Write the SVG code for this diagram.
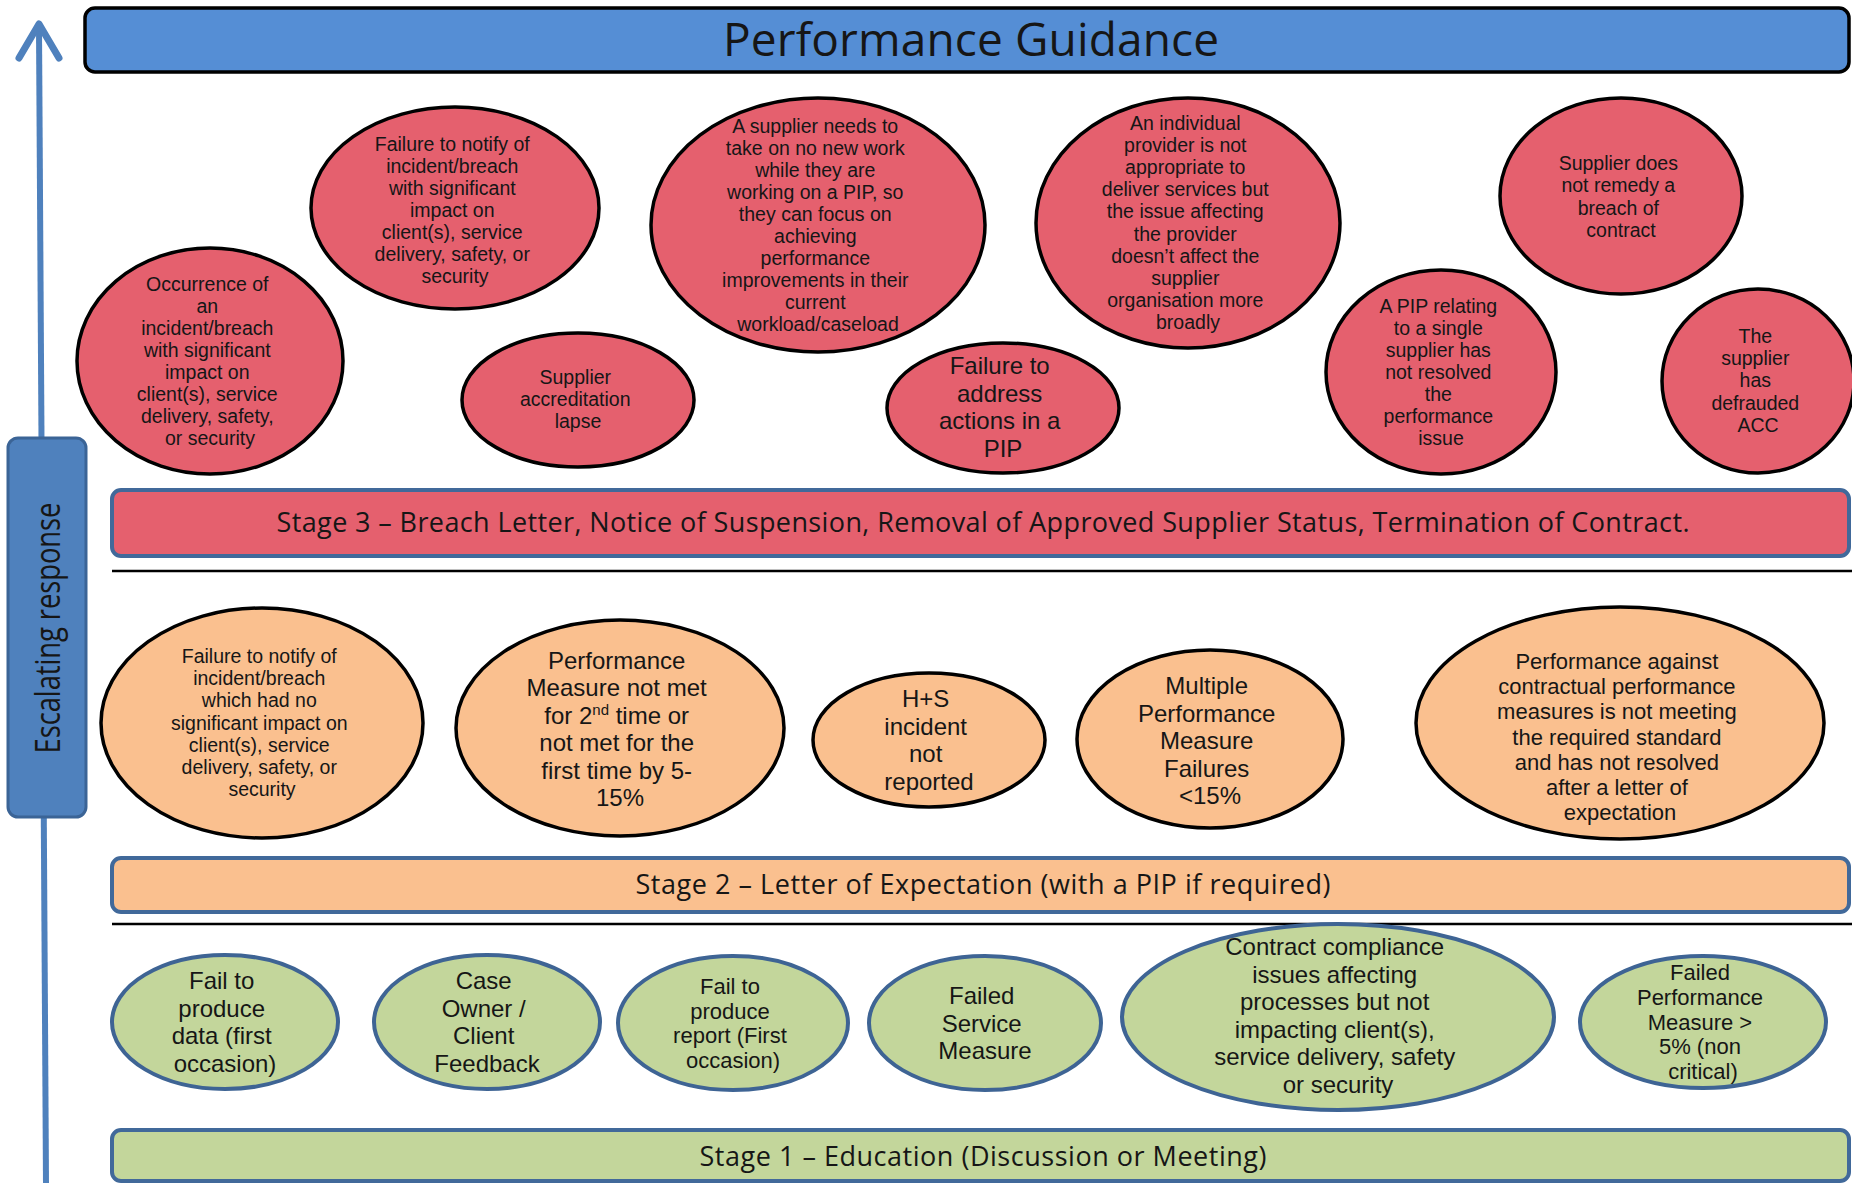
<svg xmlns="http://www.w3.org/2000/svg" width="1852" height="1183" viewBox="0 0 1852 1183">
  <style>
    text { font-family: "Liberation Sans", Arial, sans-serif; fill: #161616; text-anchor: middle; }
    .wide { font-family: "Open Sans", "Liberation Sans", Arial, sans-serif; }
    .red { fill: #E5606E; stroke: #000; stroke-width: 3.5; }
    .orange { fill: #FAC08F; stroke: #000; stroke-width: 3.5; }
    .green { fill: #C3D69B; stroke: #3E6494; stroke-width: 4; }
    .bar { stroke: #41699A; stroke-width: 4; }
    .sep { stroke: #000; stroke-width: 2.5; }
    .t20 { font-size: 19.5px; }
    .t22 { font-size: 22px; }
    .t24 { font-size: 24px; }
    .stage { font-size: 27px; }
  </style>

  <rect width="1852" height="1183" fill="#fff"/>

  <!-- Escalation axis: arrow running up the left side -->
  <g id="connectors">
    <line x1="39" y1="28" x2="46" y2="1183" stroke="#4F81BD" stroke-width="6"/>
    <polyline points="19,58 39,24 59,58" fill="none" stroke="#4F81BD" stroke-width="7" stroke-linecap="round" stroke-linejoin="round"/>
  </g>

  <g id="escalating-response">
    <rect x="8" y="438" width="78" height="379" rx="10" fill="#4F81BD" stroke="#3B6496" stroke-width="3"/>
    <text class="wide" transform="translate(60,628) rotate(-90) scale(1,1.27)" style="font-size:27.5px" textLength="251" lengthAdjust="spacing">Escalating response</text>
  </g>

  <!-- Header -->
  <g id="title">
    <rect x="85" y="8" width="1764" height="64" rx="10" fill="#558ED5" stroke="#000" stroke-width="3.5"/>
    <text class="wide" x="971" y="56" style="font-size:46px" textLength="496" lengthAdjust="spacing">Performance Guidance</text>
  </g>

  <!-- Stage bars and dividers -->
  <g id="stage-3">
    <rect class="bar" x="112" y="490" width="1737" height="66" rx="9" fill="#E5606E"/>
    <text class="wide stage" x="983" y="532" textLength="1413" lengthAdjust="spacing">Stage 3 – Breach Letter, Notice of Suspension, Removal of Approved Supplier Status, Termination of Contract.</text>
  </g>
  <line class="sep" x1="112" y1="571" x2="1852" y2="571"/>

  <g id="stage-2">
    <rect class="bar" x="112" y="858" width="1737" height="54" rx="9" fill="#FAC08F"/>
    <text class="wide stage" x="983" y="894" textLength="695" lengthAdjust="spacing">Stage 2 – Letter of Expectation (with a PIP if required)</text>
  </g>
  <line class="sep" x1="112" y1="924" x2="1852" y2="924"/>

  <g id="stage-1">
    <rect class="bar" x="112" y="1130" width="1737" height="51" rx="9" fill="#C3D69B"/>
    <text class="wide stage" x="983" y="1166" textLength="567" lengthAdjust="spacing">Stage 1 – Education (Discussion or Meeting)</text>
  </g>

  <!-- Stage 3 triggers -->
  <g id="occurrence-incident">
    <ellipse class="red" cx="210" cy="361" rx="133" ry="113"/>
    <text class="t20" y="291">
      <tspan x="210">Occurrence of</tspan>
      <tspan x="210" dy="22">an</tspan>
      <tspan x="210" dy="22">incident/breach</tspan>
      <tspan x="210" dy="22">with significant</tspan>
      <tspan x="210" dy="22">impact on</tspan>
      <tspan x="210" dy="22">client(s), service</tspan>
      <tspan x="210" dy="22">delivery, safety,</tspan>
      <tspan x="210" dy="22">or security</tspan>
    </text>
  </g>

  <g id="failure-notify-significant">
    <ellipse class="red" cx="455" cy="208" rx="144" ry="101"/>
    <text class="t20" y="151">
      <tspan x="455">Failure to notify of</tspan>
      <tspan x="455" dy="22">incident/breach</tspan>
      <tspan x="455" dy="22">with significant</tspan>
      <tspan x="455" dy="22">impact on</tspan>
      <tspan x="455" dy="22">client(s), service</tspan>
      <tspan x="455" dy="22">delivery, safety, or</tspan>
      <tspan x="455" dy="22">security</tspan>
    </text>
  </g>

  <g id="accreditation-lapse">
    <ellipse class="red" cx="578" cy="400" rx="116" ry="67"/>
    <text class="t20" y="384">
      <tspan x="578">Supplier</tspan>
      <tspan x="578" dy="22">accreditation</tspan>
      <tspan x="578" dy="22">lapse</tspan>
    </text>
  </g>

  <g id="no-new-work">
    <ellipse class="red" cx="818" cy="225" rx="167" ry="127"/>
    <text class="t20" y="133">
      <tspan x="818">A supplier needs to</tspan>
      <tspan x="818" dy="22">take on no new work</tspan>
      <tspan x="818" dy="22">while they are</tspan>
      <tspan x="818" dy="22">working on a PIP, so</tspan>
      <tspan x="818" dy="22">they can focus on</tspan>
      <tspan x="818" dy="22">achieving</tspan>
      <tspan x="818" dy="22">performance</tspan>
      <tspan x="818" dy="22">improvements in their</tspan>
      <tspan x="818" dy="22">current</tspan>
      <tspan x="818" dy="22">workload/caseload</tspan>
    </text>
  </g>

  <g id="pip-actions">
    <ellipse class="red" cx="1003" cy="408" rx="116" ry="65"/>
    <text class="t24" y="374">
      <tspan x="1003">Failure to</tspan>
      <tspan x="1003" dy="27.7">address</tspan>
      <tspan x="1003" dy="27.7">actions in a</tspan>
      <tspan x="1003" dy="27.7">PIP</tspan>
    </text>
  </g>

  <g id="individual-provider">
    <ellipse class="red" cx="1188" cy="223" rx="152" ry="125"/>
    <text class="t20" y="130">
      <tspan x="1188">An individual</tspan>
      <tspan x="1188" dy="22.1">provider is not</tspan>
      <tspan x="1188" dy="22.1">appropriate to</tspan>
      <tspan x="1188" dy="22.1">deliver services but</tspan>
      <tspan x="1188" dy="22.1">the issue affecting</tspan>
      <tspan x="1188" dy="22.1">the provider</tspan>
      <tspan x="1188" dy="22.1">doesn’t affect the</tspan>
      <tspan x="1188" dy="22.1">supplier</tspan>
      <tspan x="1188" dy="22.1">organisation more</tspan>
      <tspan x="1188" dy="22.1">broadly</tspan>
    </text>
  </g>

  <g id="pip-unresolved">
    <ellipse class="red" cx="1441" cy="372" rx="115" ry="102"/>
    <text class="t20" y="313">
      <tspan x="1441">A PIP relating</tspan>
      <tspan x="1441" dy="22">to a single</tspan>
      <tspan x="1441" dy="22">supplier has</tspan>
      <tspan x="1441" dy="22">not resolved</tspan>
      <tspan x="1441" dy="22">the</tspan>
      <tspan x="1441" dy="22">performance</tspan>
      <tspan x="1441" dy="22">issue</tspan>
    </text>
  </g>

  <g id="breach-not-remedied">
    <ellipse class="red" cx="1621" cy="196" rx="121" ry="98"/>
    <text class="t20" y="170">
      <tspan x="1621">Supplier does</tspan>
      <tspan x="1621" dy="22.3">not remedy a</tspan>
      <tspan x="1621" dy="22.3">breach of</tspan>
      <tspan x="1621" dy="22.3">contract</tspan>
    </text>
  </g>

  <g id="defrauded-acc">
    <ellipse class="red" cx="1758" cy="381" rx="96" ry="92"/>
    <text class="t20" y="343">
      <tspan x="1758">The</tspan>
      <tspan x="1758" dy="22.2">supplier</tspan>
      <tspan x="1758" dy="22.2">has</tspan>
      <tspan x="1758" dy="22.2">defrauded</tspan>
      <tspan x="1758" dy="22.2">ACC</tspan>
    </text>
  </g>

  <!-- Stage 2 triggers -->
  <g id="failure-notify-minor">
    <ellipse class="orange" cx="262" cy="723" rx="161" ry="115"/>
    <text class="t20" y="663">
      <tspan x="262">Failure to notify of</tspan>
      <tspan x="262" dy="22.2">incident/breach</tspan>
      <tspan x="262" dy="22.2">which had no</tspan>
      <tspan x="262" dy="22.2">significant impact on</tspan>
      <tspan x="262" dy="22.2">client(s), service</tspan>
      <tspan x="262" dy="22.2">delivery, safety, or</tspan>
      <tspan x="262" dy="22.2">security</tspan>
    </text>
  </g>

  <g id="measure-not-met">
    <ellipse class="orange" cx="620" cy="728" rx="164" ry="108"/>
    <text class="t24" y="669">
      <tspan x="620">Performance</tspan>
      <tspan x="620" dy="27.4">Measure not met</tspan>
      <tspan x="620" dy="27.4">for 2</tspan><tspan dy="-9" style="font-size:15px">nd</tspan><tspan dy="9"> time or</tspan>
      <tspan x="620" dy="27.4">not met for the</tspan>
      <tspan x="620" dy="27.4">first time by 5-</tspan>
      <tspan x="620" dy="27.4">15%</tspan>
    </text>
  </g>

  <g id="hs-incident">
    <ellipse class="orange" cx="929" cy="740" rx="116" ry="67"/>
    <text class="t24" y="707">
      <tspan x="929">H+S</tspan>
      <tspan x="929" dy="27.7">incident</tspan>
      <tspan x="929" dy="27.7">not</tspan>
      <tspan x="929" dy="27.7">reported</tspan>
    </text>
  </g>

  <g id="multiple-failures">
    <ellipse class="orange" cx="1210" cy="739" rx="133" ry="89"/>
    <text class="t24" y="694">
      <tspan x="1210">Multiple</tspan>
      <tspan x="1210" dy="27.5">Performance</tspan>
      <tspan x="1210" dy="27.5">Measure</tspan>
      <tspan x="1210" dy="27.5">Failures</tspan>
      <tspan x="1210" dy="27.5">&lt;15%</tspan>
    </text>
  </g>

  <g id="standard-not-met">
    <ellipse class="orange" cx="1620" cy="723" rx="204" ry="116"/>
    <text class="t22" y="669">
      <tspan x="1620">Performance against</tspan>
      <tspan x="1620" dy="25.2">contractual performance</tspan>
      <tspan x="1620" dy="25.2">measures is not meeting</tspan>
      <tspan x="1620" dy="25.2">the required standard</tspan>
      <tspan x="1620" dy="25.2">and has not resolved</tspan>
      <tspan x="1620" dy="25.2">after a letter of</tspan>
      <tspan x="1620" dy="25.2">expectation</tspan>
    </text>
  </g>

  <!-- Stage 1 triggers -->
  <g id="fail-produce-data">
    <ellipse class="green" cx="225" cy="1022" rx="113" ry="67"/>
    <text class="t24" y="989">
      <tspan x="225">Fail to</tspan>
      <tspan x="225" dy="27.7">produce</tspan>
      <tspan x="225" dy="27.7">data (first</tspan>
      <tspan x="225" dy="27.7">occasion)</tspan>
    </text>
  </g>

  <g id="case-owner-feedback">
    <ellipse class="green" cx="487" cy="1022" rx="113" ry="67"/>
    <text class="t24" y="989">
      <tspan x="487">Case</tspan>
      <tspan x="487" dy="27.7">Owner /</tspan>
      <tspan x="487" dy="27.7">Client</tspan>
      <tspan x="487" dy="27.7">Feedback</tspan>
    </text>
  </g>

  <g id="fail-produce-report">
    <ellipse class="green" cx="733" cy="1023" rx="115" ry="67"/>
    <text class="t22" y="994">
      <tspan x="733">Fail to</tspan>
      <tspan x="733" dy="24.7">produce</tspan>
      <tspan x="733" dy="24.7">report (First</tspan>
      <tspan x="733" dy="24.7">occasion)</tspan>
    </text>
  </g>

  <g id="failed-service-measure">
    <ellipse class="green" cx="985" cy="1023" rx="116" ry="67"/>
    <text class="t24" y="1004">
      <tspan x="985">Failed</tspan>
      <tspan x="985" dy="27.5">Service</tspan>
      <tspan x="985" dy="27.5">Measure</tspan>
    </text>
  </g>

  <g id="contract-compliance">
    <ellipse class="green" cx="1338" cy="1017" rx="216" ry="93"/>
    <text class="t24" y="955">
      <tspan x="1338">Contract compliance</tspan>
      <tspan x="1338" dy="27.6">issues affecting</tspan>
      <tspan x="1338" dy="27.6">processes but not</tspan>
      <tspan x="1338" dy="27.6">impacting client(s),</tspan>
      <tspan x="1338" dy="27.6">service delivery, safety</tspan>
      <tspan x="1338" dy="27.6">or security</tspan>
    </text>
  </g>

  <g id="failed-performance-measure">
    <ellipse class="green" cx="1703" cy="1022" rx="123" ry="66"/>
    <text class="t22" y="980">
      <tspan x="1703">Failed</tspan>
      <tspan x="1703" dy="24.75">Performance</tspan>
      <tspan x="1703" dy="24.75">Measure &gt;</tspan>
      <tspan x="1703" dy="24.75">5% (non</tspan>
      <tspan x="1703" dy="24.75">critical)</tspan>
    </text>
  </g>
</svg>
